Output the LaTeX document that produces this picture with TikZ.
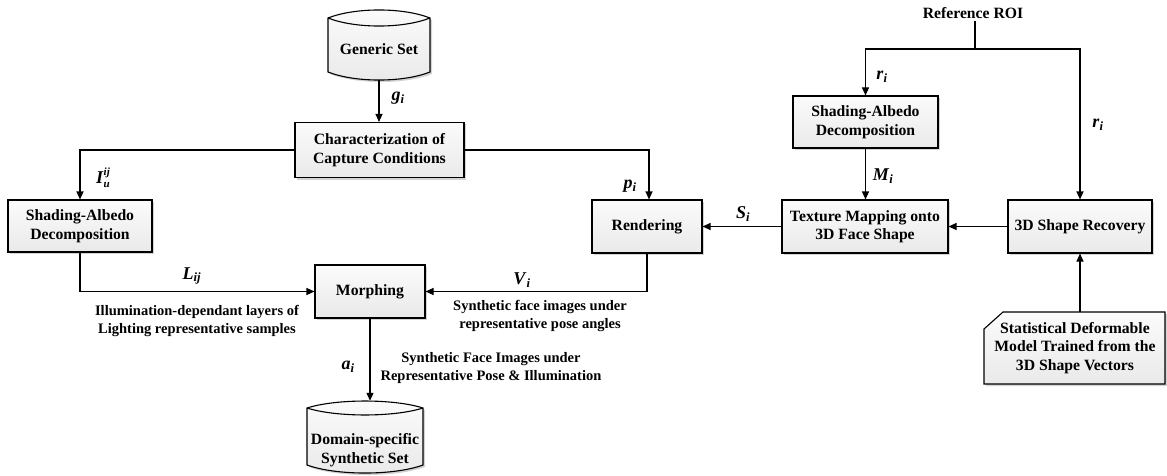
\documentclass[tikz,border=0pt]{standalone}
\usepackage{fontspec}
\setmainfont{Liberation Serif}
\usetikzlibrary{arrows.meta,shadows,calc}
\newcommand\lab[2]{\textit{#1}\textsubscript{\textit{#2}}}
\begin{document}
\begin{tikzpicture}[x=1pt,y=-1pt,
  every node/.style={font=\fontsize{15.7}{18.5}\selectfont\bfseries},
  fillstyle/.style={top color=gray!3, bottom color=gray!17},
  box/.style={draw, line width=1.1pt, fillstyle, drop shadow={shadow xshift=2pt,shadow yshift=-2pt,opacity=0.35,fill=gray}, align=center, inner sep=0pt},
  ghost/.style={inner sep=0pt, draw=none},
  lbl/.style={font=\fontsize{18}{20}\selectfont\bfseries, inner sep=1pt},
  note/.style={font=\fontsize{14.5}{18}\selectfont\bfseries, align=center, inner sep=0pt},
  arr/.style={line width=1.1pt, -{Triangle[length=8pt,width=7pt]}},
  ln/.style={line width=1.1pt}]
\useasboundingbox (0,0) rectangle (1167,476);

% Generic Set cylinder
\fill[gray, opacity=0.35] (330,20) .. controls (357,9.3) and (405,9.3) .. (432,20) -- (432,74) .. controls (405,84.7) and (357,84.7) .. (330,74) -- cycle;
\path[draw, line width=1.1pt, fillstyle] (328,18) .. controls (355,7.3) and (403,7.3) .. (430,18) -- (430,72) .. controls (403,82.7) and (355,82.7) .. (328,72) -- cycle;
\draw[ln] (328,18) .. controls (355,28.7) and (403,28.7) .. (430,18);
\node[ghost, minimum width=102pt, minimum height=70pt] (gs) at (379,45) {};
\node at (379,49) {Generic Set};

% Domain cylinder
\fill[gray, opacity=0.35] (309,410) .. controls (338,400.7) and (396,400.7) .. (425,410) -- (425,467) .. controls (396,477.7) and (338,477.7) .. (309,467) -- cycle;
\path[draw, line width=1.1pt, fillstyle] (307,408) .. controls (336,398.7) and (394,398.7) .. (423,408) -- (423,465) .. controls (394,475.7) and (336,475.7) .. (307,465) -- cycle;
\draw[ln] (307,408) .. controls (336,417.3) and (394,417.3) .. (423,408);
\node[ghost, minimum width=116pt, minimum height=72pt] (dom) at (365,437) {};
\node[align=center] at (365,450) {Domain-specific\\Synthetic Set};

% Boxes
\node[box, minimum width=169pt, minimum height=55pt] (char) at (379.5,150) {Characterization of\\Capture Conditions};
\node[box, minimum width=144pt, minimum height=52pt] (sa1) at (80,226) {Shading-Albedo\\Decomposition};
\node[box, minimum width=110pt, minimum height=53pt] (rend) at (647,226.5) {Rendering};
\node[box, minimum width=110pt, minimum height=53pt] (morph) at (370,291.5) {Morphing};
\node[box, minimum width=145pt, minimum height=52pt] (sa2) at (865.5,122) {Shading-Albedo\\Decomposition};
\node[box, minimum width=166pt, minimum height=53pt] (tex) at (865,226.5) {Texture Mapping onto\\3D Face Shape};
\node[box, minimum width=144pt, minimum height=53pt] (shape) at (1080,226.5) {3D Shape Recovery};

% Statistical model (cut corner)
\fill[gray, opacity=0.35] (1005,314) -- (1167,314) -- (1167,386) -- (986,386) -- (986,331) -- cycle;
\path[draw, line width=1.1pt, fillstyle] (1003,312) -- (1165,312) -- (1165,384) -- (984,384) -- (984,329) -- cycle;
\node[ghost, minimum width=181pt, minimum height=72pt] (stat) at (1074.5,348) {};
\node[align=center] at (1075,348) {Statistical Deformable\\Model Trained from the\\3D Shape Vectors};

% Reference ROI
\node[inner sep=2pt] (roi) at (973,13) {Reference ROI};
\coordinate (split) at (975,49);

% Connectors
\draw[arr] (gs.south) -- (gs.south |- char.north);
\draw[arr] (char.east) -| ([xshift=2pt]rend.north);
\draw[arr] (char.west) -| (sa1.north);
\draw[arr] (sa1.south) |- (morph.west);
\draw[arr] (rend.south) |- (morph.east);
\draw[arr] (morph.south) -- (morph.south |- dom.north);
\draw[ln] (roi.south -| split) -- (split);
\draw[arr] (split) -| (sa2.north);
\draw[arr] (split) -| (shape.north);
\draw[arr] (sa2.south) -- (sa2.south |- tex.north);
\draw[arr] (shape.west) -- (tex.east);
\draw[arr] (tex.west) -- (rend.east);
\draw[arr] (shape.south |- stat.north) -- (shape.south);

% Labels
\node[lbl] (lg) at (398,98) {\lab{g}{i}};
\node[lbl] (lI) at (103,178) {\textit{I}\rlap{\raisebox{0.42em}{\fontsize{11}{11}\selectfont\textit{ij}}}\raisebox{-0.22em}{\fontsize{11}{11}\selectfont\textit{u}}};
\node[lbl] (lp) at (630,186) {\lab{p}{i}};
\node[lbl] (lL) at (192,276) {\lab{L}{ij}};
\node[lbl] (lV) at (522,280) {\lab{V}{i}};
\node[lbl] (la) at (348,367) {\lab{a}{i}};
\node[lbl] (lr1) at (882,77) {\lab{r}{i}};
\node[lbl] (lr2) at (1098,125) {\lab{r}{i}};
\node[lbl] (lM) at (883,176) {\lab{M}{i}};
\node[lbl] (lS) at (743,214) {\lab{S}{i}};

% Notes
\node[note] (n1) at (197,321) {Illumination-dependant layers of\\Lighting representative samples};
\node[note] (n2) at (540,316) {Synthetic face images under\\representative pose angles};
\node[note] (n3) at (491,368) {Synthetic Face Images under\\Representative Pose \& Illumination};
\end{tikzpicture}
\end{document}
